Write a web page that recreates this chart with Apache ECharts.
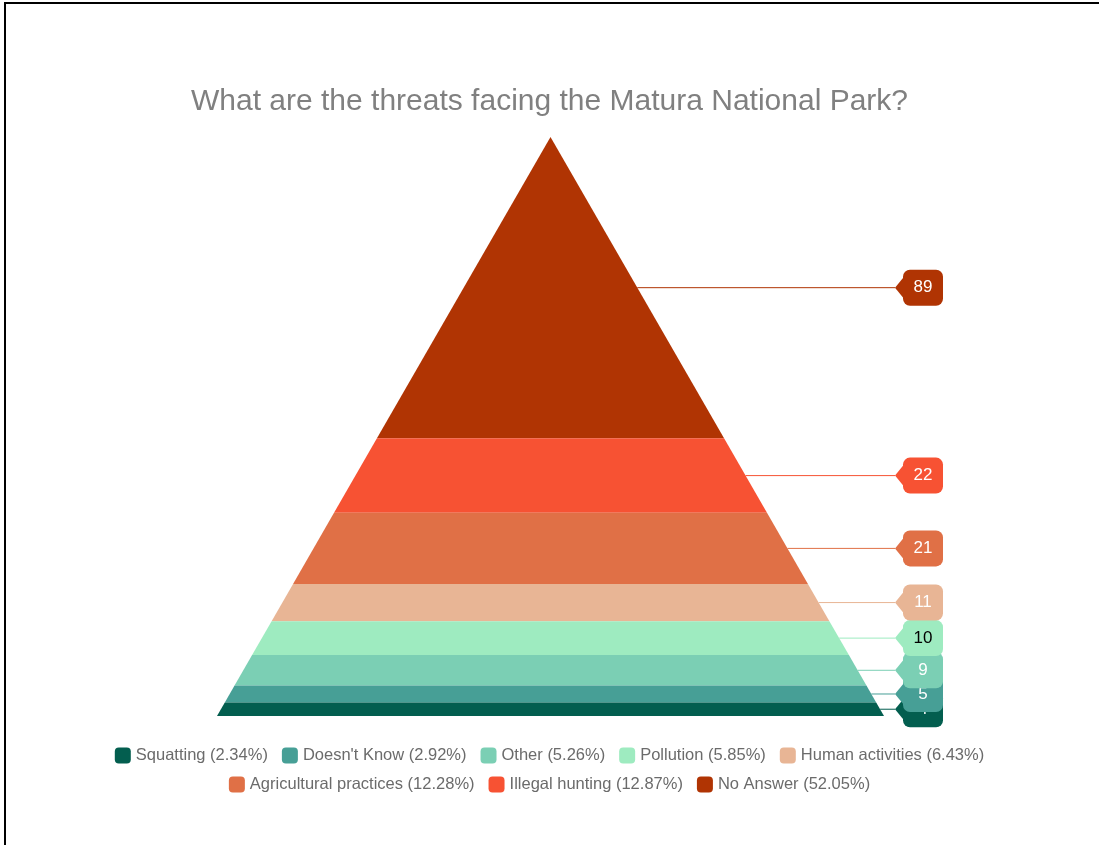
<!DOCTYPE html>
<html>
<head>
<meta charset="utf-8">
<script src="https://cdn.jsdelivr.net/npm/echarts@6/dist/echarts.min.js"></script>
<style>
html,body{margin:0;padding:0;background:#fff;}
#main{width:1099px;height:845px;}
</style>
</head>
<body>
<div id="main"></div>
<script>
// ---- data ----
const categories = ['No Answer', 'Illegal hunting', 'Agricultural practices', 'Human activities', 'Pollution', 'Other', "Doesn't Know", 'Squatting'];
const values = [89, 22, 21, 11, 10, 9, 5, 4];
const legendRow1 = ['Squatting', "Doesn't Know", 'Other', 'Pollution', 'Human activities'];
const legendRow2 = ['Agricultural practices', 'Illegal hunting', 'No Answer'];
const titleText = 'What are the threats facing the Matura National Park?';

// ---- style ----
const colors = ['#b03403', '#f75233', '#e07046', '#e8b595', '#9eebc0', '#7bcfb4', '#479f96', '#035e4f'];
const labelTextColors = ['#fff', '#fff', '#fff', '#fff', '#000', '#fff', '#fff', '#fff'];
const FONT = '"Liberation Sans", Arial, sans-serif';

const total = values.reduce((a, b) => a + b, 0);
const cum = [];
values.reduce((acc, v, i) => { cum[i] = acc; return acc + v; }, 0);
const pctOf = {};
categories.forEach((c, i) => { pctOf[c] = (values[i] / total * 100).toFixed(2); });

function makeRender(i) {
  return function (params, api) {
    const start = cum[i], end = cum[i] + values[i];
    const hw = c => c / total;
    const pts = [
      api.coord([-hw(start), start]),
      api.coord([hw(start), start]),
      api.coord([hw(end), end]),
      api.coord([-hw(end), end])
    ];
    const mid = (start + end) / 2;
    const edge = api.coord([hw(mid), mid]);
    const y = edge[1];
    const right = api.coord([1, 0])[0];
    const tipX = right + 11;
    const boxX = tipX + 8;
    const bw = 40, bh = 36;
    return {
      type: 'group',
      children: [
        { type: 'polygon', shape: { points: pts }, style: { fill: colors[i] }, z2: 0 },
        { type: 'polyline', shape: { points: [edge, [tipX, y]] }, style: { stroke: colors[i], lineWidth: 1, fill: null }, z2: 10 },
        { type: 'rect', shape: { x: boxX, y: y - bh / 2, width: bw, height: bh, r: 7 }, style: { fill: colors[i] }, z2: 100 - i * 3 },
        { type: 'polygon', shape: { points: [[tipX, y], [boxX + 1, y - 11], [boxX + 1, y + 11]] }, style: { fill: colors[i] }, z2: 100 - i * 3 },
        { type: 'text', x: boxX + bw / 2, y: y, style: { text: String(values[i]), fill: labelTextColors[i], font: '17px ' + FONT, align: 'center', verticalAlign: 'middle' }, z2: 101 - i * 3 }
      ]
    };
  };
}

const series = categories.map((c, i) => ({
  name: c,
  type: 'custom',
  coordinateSystem: 'cartesian2d',
  renderItem: makeRender(i),
  itemStyle: { color: colors[i] },
  data: [[0, cum[i]]],
  silent: true,
  animation: false
}));

const legendCommon = {
  left: 'center',
  icon: 'roundRect',
  itemWidth: 16,
  itemHeight: 16,
  itemGap: 14,
  textStyle: { fontSize: 16.5, color: '#6b6b6b', fontFamily: FONT },
  formatter: name => name + ' (' + pctOf[name] + '%)',
  selectedMode: false
};

const chart = echarts.init(document.getElementById('main'), null, { renderer: 'canvas' });
chart.setOption({
  animation: false,
  backgroundColor: '#fff',
  title: {
    text: titleText,
    left: 'center',
    top: 87,
    padding: 0,
    textStyle: { fontSize: 30, fontWeight: 'normal', color: '#808080', fontFamily: FONT }
  },
  graphic: [{
    type: 'rect',
    shape: { x: 5, y: 3, width: 2000, height: 2000 },
    style: { fill: null, stroke: '#000', lineWidth: 2 },
    z: 100
  }],
  legend: [
    Object.assign({ data: legendRow1, top: 742 }, legendCommon),
    Object.assign({ data: legendRow2, top: 771 }, legendCommon)
  ],
  grid: { left: 217, right: 215, top: 137, bottom: 129 },
  xAxis: { type: 'value', min: -1, max: 1, show: false },
  yAxis: { type: 'value', min: 0, max: total, inverse: true, show: false },
  series: series
});
</script>
</body>
</html>
